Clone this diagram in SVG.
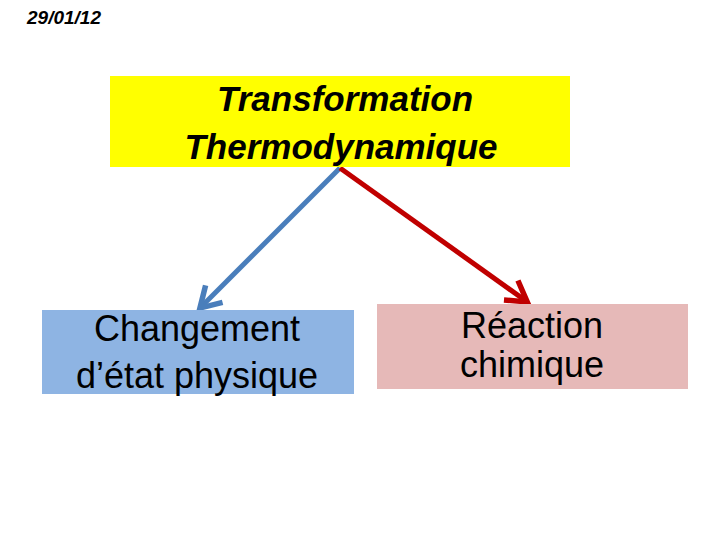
<svg xmlns="http://www.w3.org/2000/svg" width="720" height="540" viewBox="0 0 720 540">
<defs>
<style>
.t{font-family:"Liberation Sans",Arial,sans-serif;fill:#000;text-anchor:middle}
.h{font-weight:bold;font-style:italic;font-size:35px}
.n{font-size:36px}
</style>
<marker id="mb" markerWidth="6" markerHeight="6" refX="4.2" refY="3" orient="auto" markerUnits="strokeWidth" viewBox="0 0 6 6">
<path d="M0.5,0.6 L4.5,3 L0.5,5.4" fill="none" stroke="#4a7ebb" stroke-width="1.1"/>
</marker>
<marker id="mr" markerWidth="6" markerHeight="6" refX="4.2" refY="3" orient="auto" markerUnits="strokeWidth" viewBox="0 0 6 6">
<path d="M0.5,0.6 L4.5,3 L0.5,5.4" fill="none" stroke="#c00000" stroke-width="1.1"/>
</marker>
</defs>
<rect width="720" height="540" fill="#fff"/>
<text x="27" y="24" font-family="Liberation Sans,Arial,sans-serif" font-weight="bold" font-style="italic" font-size="19">29/01/12</text>
<g id="connectors">
<line x1="340" y1="168" x2="201" y2="307" stroke="#4a7ebb" stroke-width="5" marker-end="url(#mb)"/>
<line x1="340" y1="168" x2="526" y2="301" stroke="#c00000" stroke-width="5" marker-end="url(#mr)"/>
</g>
<g id="n1">
<rect x="110" y="76" width="460" height="91" fill="#ffff00"/>
<text class="t h" x="345" y="111">Transformation</text>
<text class="t h" x="341" y="159">Thermodynamique</text>
</g>
<g id="n2">
<rect x="42" y="310" width="312" height="84" fill="#8eb4e3"/>
<text class="t n" x="197" y="341">Changement</text>
<text class="t n" x="197" y="388">d’état physique</text>
</g>
<g id="n3">
<rect x="377" y="304" width="311" height="85" fill="#e6b9b8"/>
<text class="t n" x="532" y="338">Réaction</text>
<text class="t n" x="532" y="377">chimique</text>
</g>
</svg>
